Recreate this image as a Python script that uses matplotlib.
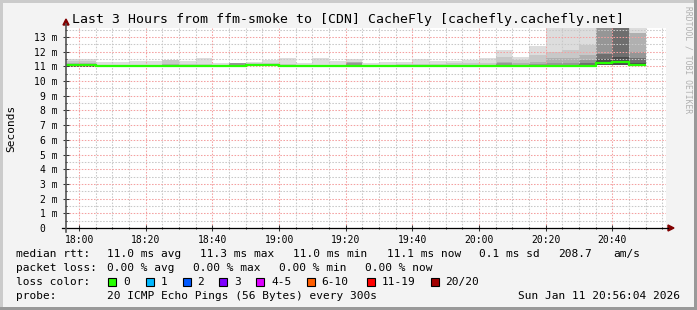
import matplotlib
matplotlib.use('Agg')
import matplotlib.pyplot as plt
import matplotlib.dates as mdates
from matplotlib.ticker import MultipleLocator, FuncFormatter
from matplotlib.patches import Rectangle, Polygon
from matplotlib.lines import Line2D
import pandas as pd

# 5 minute bins (start of each bin), 17:55 .. 20:45
bin_start = pd.date_range('2026-01-11 17:55', periods=35, freq='5min')
graph_start = pd.Timestamp('2026-01-11 17:56:04')
graph_end = pd.Timestamp('2026-01-11 20:56:04')

# median rtt per bin (ms)
median = [11.1, 11.1,
          11.0, 11.0, 11.0, 11.0, 11.0, 11.0, 11.0, 11.0, 11.0,
          11.1, 11.1,
          11.0, 11.0, 11.0, 11.0, 11.0, 11.0, 11.0, 11.0,
          11.0, 11.0, 11.0, 11.0, 11.0, 11.0, 11.0, 11.0,
          11.05, 11.05, 11.05, 11.2, 11.3, 11.1]

# smoke: lowest ping per bin and upper edge of each band (outer -> inner)
smoke_min = [10.97, 10.97, 10.95, 10.95, 10.95, 10.95, 10.95, 10.95, 10.95, 10.95, 10.95,
             11.03, 11.03, 10.95, 10.95, 10.95, 10.95, 10.95, 10.95, 10.95, 10.95,
             10.95, 10.95, 10.95, 10.95, 10.95, 10.95, 10.95, 10.95,
             10.98, 10.98, 10.98, 11.08, 11.1, 11.02]
band1 = [11.48, 11.48, 11.28, 11.32, 11.39, 11.39, 11.46, 11.37, 11.55, 11.25, 11.25,
         11.28, 11.43, 11.57, 11.25, 11.55, 11.37, 11.53, 11.25, 11.28, 11.32,
         11.48, 11.39, 11.39, 11.46, 11.55, 12.12, 11.64, 12.39,
         14.0, 14.0, 14.0, 14.0, 14.0, 14.0]
band2 = [11.35, 11.35, 11.1, 11.1, 11.12, 11.12, 11.4, 11.15, 11.15, 11.1, 11.25,
         11.2, 11.2, 11.15, 11.1, 11.12, 11.12, 11.28, 11.1, 11.12, 11.15,
         11.18, 11.15, 11.2, 11.25, 11.25, 11.66, 11.4, 11.78,
         12.0, 12.1, 12.45, 14.0, 14.0, 13.25]
band3 = [11.2, 11.2, 11.05, 11.05, 11.05, 11.05, 11.15, 11.05, 11.05, 11.05, 11.25,
         11.15, 11.15, 11.05, 11.05, 11.05, 11.05, 11.28, 11.08, 11.08, 11.08,
         11.08, 11.08, 11.08, 11.08, 11.08, 11.32, 11.2, 11.32,
         11.55, 11.55, 11.77, 14.0, 14.0, 13.25]
band4 = [11.15, 11.15, 11.02, 11.02, 11.02, 11.02, 11.02, 11.02, 11.02, 11.02, 11.2,
         11.12, 11.12, 11.02, 11.02, 11.02, 11.02, 11.2, 11.04, 11.04, 11.04,
         11.04, 11.04, 11.04, 11.04, 11.04, 11.2, 11.12, 11.15,
         11.25, 11.25, 11.43, 14.0, 14.0, 12.0]
band5 = [11.12, 11.12, 11.0, 11.0, 11.0, 11.0, 11.0, 11.0, 11.0, 11.0, 11.1,
         11.1, 11.1, 11.0, 11.0, 11.0, 11.0, 11.1, 11.0, 11.0, 11.0,
         11.0, 11.0, 11.0, 11.0, 11.0, 11.1, 11.05, 11.05,
         11.12, 11.12, 11.2, 11.84, 14.0, 11.55]
band6 = [11.1, 11.1, 11.0, 11.0, 11.0, 11.0, 11.0, 11.0, 11.0, 11.0, 11.05,
         11.1, 11.1, 11.0, 11.0, 11.0, 11.0, 11.05, 11.0, 11.0, 11.0,
         11.0, 11.0, 11.0, 11.0, 11.0, 11.02, 11.02, 11.02,
         11.06, 11.06, 11.1, 11.5, 11.66, 11.25]

# legend texts
rtt_stats = ['11.0 ms avg', '11.3 ms max', '11.0 ms min', '11.1 ms now', '0.1 ms sd', '208.7', 'am/s']
loss_stats = ['0.00 % avg', '0.00 % max', '0.00 % min', '0.00 % now']
loss_labels = ['0', '1', '2', '3', '4-5', '6-10', '11-19', '20/20']
loss_colors = ['#26ff00', '#00b8ff', '#0059ff', '#7e00ff', '#dd00ff', '#ff5e00', '#ff0000', '#a10000']

W, H = 697, 310
def fx(x):
    return x / W
def fy(y):
    return 1 - y / H

mono = 'DejaVu Sans Mono'
plt.rcParams['font.family'] = mono
plt.rcParams['lines.scale_dashes'] = False

fig = plt.figure(figsize=(W / 100, H / 100), dpi=100, facecolor='#f3f3f3')

# 3d-ish frame
fig.add_artist(Rectangle((0, 0), fx(3), 1, transform=fig.transFigure, color='#cbcbcb', lw=0))
fig.add_artist(Rectangle((0, fy(3)), 1, 3 / H, transform=fig.transFigure, color='#cbcbcb', lw=0))
fig.add_artist(Rectangle((fx(W - 3), 0), 3 / W, 1, transform=fig.transFigure, color='#999999', lw=0))
fig.add_artist(Rectangle((0, 0), 1, 3 / H, transform=fig.transFigure, color='#999999', lw=0))

ax = fig.add_axes([fx(66), fy(228), 600 / W, 200 / H])
ax.set_facecolor('white')

edges = list(bin_start) + [bin_start[-1] + pd.Timedelta(minutes=5)]
xs = mdates.date2num(bin_start)
width = 5 / (24 * 60)

# smoke bands, outer (light) to inner (dark)
band_colors = ['#dddddd', '#c8c8c8', '#b0b0b0', '#969696', '#6e6e6e', '#4c4c4c']
lows = smoke_min
for top, col in zip([band1, band2, band3, band4, band5, band6], band_colors):
    heights = [t - b for t, b in zip(top, lows)]
    ax.bar(xs, heights, width=width, bottom=lows, align='edge', color=col, lw=0, zorder=1)

# median line
ax.stairs(median, mdates.date2num(edges), baseline=None, color='#26ff00', lw=1.6, zorder=3)

ax.set_xlim(mdates.date2num(graph_start), mdates.date2num(graph_end))
ax.set_ylim(0, 13.61)

ax.xaxis.set_major_locator(mdates.MinuteLocator(byminute=[0, 20, 40]))
ax.xaxis.set_minor_locator(mdates.MinuteLocator(byminute=range(0, 60, 5)))
ax.xaxis.set_major_formatter(mdates.DateFormatter('%H:%M'))
ax.yaxis.set_major_locator(MultipleLocator(1))
ax.yaxis.set_minor_locator(MultipleLocator(0.5))
ax.yaxis.set_major_formatter(FuncFormatter(lambda v, p: '0  ' if v == 0 else f'{int(v)} m'))

ax.set_axisbelow(False)
ax.grid(which='major', color='#f4a0a0', lw=0.75, dashes=(1.1, 1.1))
ax.grid(which='minor', color='#c8c8c8', lw=0.75, dashes=(1.1, 1.1))

ax.tick_params(which='both', direction='inout', colors='#333333', labelcolor='black',
               labelsize=7)
ax.tick_params(which='major', length=4, width=0.75, pad=3)
ax.tick_params(which='minor', length=2, width=0.75)
ax.tick_params(axis='y', pad=4)
for s in ax.spines.values():
    s.set_visible(False)

# axis lines with arrows
fig.add_artist(Line2D([fx(62), fx(668)], [fy(228), fy(228)], color='black', lw=0.9,
                      transform=fig.transFigure))
fig.add_artist(Line2D([fx(66), fx(66)], [fy(232), fy(24)], color='#555555', lw=1.2,
                      transform=fig.transFigure))
fig.add_artist(Polygon([(fx(668), fy(225)), (fx(674), fy(228)), (fx(668), fy(231))],
                       closed=True, color='#800000', transform=fig.transFigure))
fig.add_artist(Polygon([(fx(63), fy(25)), (fx(66), fy(19)), (fx(69), fy(25))],
                       closed=True, color='#800000', transform=fig.transFigure))

fig.text(fx(72), fy(19), 'Last 3 Hours from ffm-smoke to [CDN] CacheFly [cachefly.cachefly.net]',
         fontsize=9.5, ha='left', va='center')
fig.text(fx(11), fy(128), 'Seconds', fontsize=8, rotation=90, ha='center', va='center')
fig.text(fx(688), fy(60), 'RRDTOOL / TOBI OETIKER', fontsize=5.8, rotation=270,
         ha='center', va='center', color='#b0b0b0')

fs = 8.05
fig.text(fx(16), fy(254), 'median rtt:', fontsize=fs, va='center')
for txt, x in zip(rtt_stats, [107, 200, 293, 387, 479, 558, 613]):
    fig.text(fx(x), fy(254), txt, fontsize=fs, va='center')

fig.text(fx(16), fy(268), 'packet loss:', fontsize=fs, va='center')
for txt, x in zip(loss_stats, [107, 193, 279, 365]):
    fig.text(fx(x), fy(268), txt, fontsize=fs, va='center')

fig.text(fx(16), fy(282), 'loss color:', fontsize=fs, va='center')
sw_x = [108, 145.5, 182.5, 219, 256, 306.5, 366.5, 430.5]
for lab, col, x in zip(loss_labels, loss_colors, sw_x):
    fig.add_artist(Rectangle((fx(x), fy(286)), 8 / W, 8 / H, transform=fig.transFigure,
                             facecolor=col, edgecolor='black', lw=0.8))
    fig.text(fx(x + 15), fy(282), lab, fontsize=fs, va='center')

fig.text(fx(16), fy(296), 'probe:', fontsize=fs, va='center')
fig.text(fx(107), fy(296), '20 ICMP Echo Pings (56 Bytes) every 300s', fontsize=fs, va='center')
fig.text(fx(680), fy(296), 'Sun Jan 11 20:56:04 2026', fontsize=fs, va='center', ha='right')

fig.savefig('out.png', dpi=100, facecolor=fig.get_facecolor())
